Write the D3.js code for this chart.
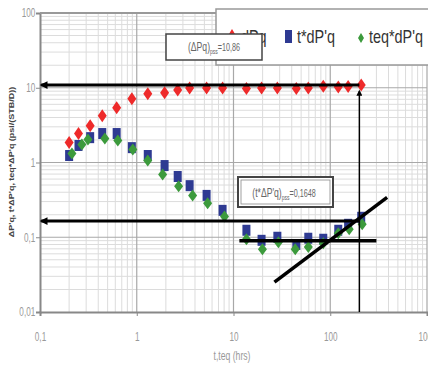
<!DOCTYPE html>
<html>
<head>
<meta charset="utf-8">
<script src="https://cdn.jsdelivr.net/npm/d3@7"></script>
<style>
  body { margin: 0; background: #fff; }
  svg { display: block; font-family: "Liberation Sans", Arial, sans-serif; }
</style>
</head>
<body>
<svg id="chart" width="428" height="367"></svg>
<script>
// time (hrs) for dPq and t*dP'q
const tHrs = [0.2, 0.25, 0.33, 0.44, 0.62, 0.89, 1.3, 1.94, 2.65, 3.52, 5.27, 7.71, 13.6, 19.5, 28.4, 44.6, 59.3, 84.7, 121, 153, 209];
const dPq = [1.85, 2.44, 3.11, 4.23, 5.41, 7.13, 8.32, 8.58, 9.3, 9.9, 9.9, 9.9, 9.8, 9.9, 9.9, 9.8, 9.9, 10.5, 10.2, 10.4, 10.9];
const tdPq = [1.24, 1.69, 2.15, 2.44, 2.44, 1.58, 1.24, 0.91, 0.65, 0.49, 0.363, 0.229, 0.124, 0.091, 0.10, 0.08, 0.097, 0.094, 0.124, 0.149, 0.185];
// equivalent time and teq*dP'q
const teq = [0.214, 0.271, 0.313, 0.468, 0.637, 0.91, 1.3, 1.85, 2.71, 3.78, 5.4, 8.07, 13.6, 19.9, 29.1, 43.5, 59.3, 84.7, 121, 157, 214];
const teqdPq = [1.32, 1.74, 2.03, 2.09, 1.97, 1.49, 1.06, 0.69, 0.48, 0.363, 0.284, 0.19, 0.094, 0.069, 0.086, 0.069, 0.074, 0.083, 0.113, 0.128, 0.149];

const xTicks = [0.1, 1, 10, 100, 1000];
const yTicks = [0.01, 0.1, 1, 10, 100];

// straight lines drawn on the plot: [x1, y1, x2, y2]
const dPqSS = 10.86, tdPqSS = 0.1648, tPss = 200;
const radialLine = [11.5, 0.09, 300, 0.09];
const slopeLine = [26.5, 0.0251, 387, 0.341];

const svg = d3.select('#chart');
const x = d3.scaleLog().domain([0.1, 1000]).range([40, 427]);
const y = d3.scaleLog().domain([0.01, 100]).range([312, 13]);

const fmt = d => String(d).replace('.', ',');

// minor + major grid
const minorX = [], minorY = [];
[0.1, 1, 10, 100].forEach(b => { for (let k = 2; k <= 9; k++) minorX.push(b * k); });
[0.01, 0.1, 1, 10].forEach(b => { for (let k = 2; k <= 9; k++) minorY.push(b * k); });

const grid = svg.append('g');
grid.selectAll('.mx').data(minorX).enter().append('line')
  .attr('x1', d => x(d)).attr('x2', d => x(d)).attr('y1', 13).attr('y2', 312)
  .attr('stroke', '#dcdcdc').attr('stroke-width', 1);
grid.selectAll('.my').data(minorY).enter().append('line')
  .attr('y1', d => y(d)).attr('y2', d => y(d)).attr('x1', 40).attr('x2', 427)
  .attr('stroke', '#dcdcdc').attr('stroke-width', 1);
grid.selectAll('.Mx').data(xTicks.slice(1)).enter().append('line')
  .attr('x1', d => x(d)).attr('x2', d => x(d)).attr('y1', 13).attr('y2', 312)
  .attr('stroke', '#a8a8a8').attr('stroke-width', 1.2);
grid.selectAll('.My').data(yTicks.slice(1)).enter().append('line')
  .attr('y1', d => y(d)).attr('y2', d => y(d)).attr('x1', 40).attr('x2', 427)
  .attr('stroke', '#a8a8a8').attr('stroke-width', 1.2);

// axes
const ax = svg.append('g').attr('transform', 'translate(0,312)')
  .call(d3.axisBottom(x).tickValues(xTicks).tickFormat(fmt).tickSize(4).tickPadding(16));
const ay = svg.append('g').attr('transform', 'translate(40,0)')
  .call(d3.axisLeft(y).tickValues(yTicks).tickFormat(fmt).tickSize(4).tickPadding(2));
[ax, ay].forEach(a => {
  a.select('.domain').attr('stroke', '#888').attr('stroke-width', 2);
  a.selectAll('.tick line').attr('stroke', '#888');
  a.selectAll('.tick text').attr('fill', '#999').attr('font-size', 12);
});
ax.selectAll('.tick text').attr('transform', 'scale(0.68,1)');
ay.selectAll('.tick text').attr('transform', 'scale(0.68,1)').attr('x', -7);

// top border of plot
svg.append('line').attr('x1', 40).attr('x2', 427).attr('y1', 13).attr('y2', 13)
  .attr('stroke', '#999').attr('stroke-width', 2);

// axis titles
svg.append('text').attr('transform', 'translate(232,360) scale(0.72,1)')
  .attr('text-anchor', 'middle').attr('font-size', 12).attr('fill', '#999')
  .text('t,teq (hrs)');
svg.append('text').attr('transform', 'translate(14,162) rotate(-90) scale(1,0.8)')
  .attr('text-anchor', 'middle').attr('font-size', 9).attr('font-weight', 'bold').attr('fill', '#444')
  .text("ΔP'q, t*ΔP'q, teq*ΔP'q (psi/(STB/D))");

// markers
const diamond = (w, h) => `M0,${-h}L${w},0L0,${h}L${-w},0Z`;

svg.append('g').selectAll('rect').data(tHrs).enter().append('rect')
  .attr('x', d => x(d) - 4).attr('y', (d, i) => y(tdPq[i]) - 5.5)
  .attr('width', 8).attr('height', 11).attr('fill', '#2e3a92');

svg.append('g').selectAll('path').data(teq).enter().append('path')
  .attr('transform', (d, i) => `translate(${x(d)},${y(teqdPq[i])})`)
  .attr('d', diamond(4.5, 6)).attr('fill', '#3c9a3c');

svg.append('g').selectAll('path').data(tHrs).enter().append('path')
  .attr('transform', (d, i) => `translate(${x(d)},${y(dPq[i])})`)
  .attr('d', diamond(4.5, 6.5)).attr('fill', '#ee2a2a');

// arrows and guide lines (arrow shape points along +x, reversed at line start)
const defs = svg.append('defs');
defs.append('marker').attr('id', 'arr').attr('viewBox', '0 0 10 10')
  .attr('refX', 8).attr('refY', 5).attr('markerWidth', 3).attr('markerHeight', 2.6)
  .attr('orient', 'auto-start-reverse')
  .append('path').attr('d', 'M10,5L0,0L0,10Z').attr('fill', '#000');
defs.append('marker').attr('id', 'arrSmall').attr('viewBox', '0 0 10 10')
  .attr('refX', 8).attr('refY', 5).attr('markerWidth', 5).attr('markerHeight', 4)
  .attr('orient', 'auto-start-reverse')
  .append('path').attr('d', 'M10,5L0,0L0,10Z').attr('fill', '#000');

const lines = svg.append('g');
lines.append('line').attr('x1', x(0.103)).attr('x2', x(tPss))
  .attr('y1', y(dPqSS)).attr('y2', y(dPqSS))
  .attr('stroke', '#000').attr('stroke-width', 3).attr('marker-start', 'url(#arr)');
lines.append('line').attr('x1', x(0.103)).attr('x2', x(tPss))
  .attr('y1', y(tdPqSS)).attr('y2', y(tdPqSS))
  .attr('stroke', '#000').attr('stroke-width', 3).attr('marker-start', 'url(#arr)');
lines.append('line').attr('x1', x(tPss)).attr('x2', x(tPss))
  .attr('y1', y(dPqSS) + 6).attr('y2', 312)
  .attr('stroke', '#000').attr('stroke-width', 1.5).attr('marker-start', 'url(#arrSmall)');
lines.append('line').attr('x1', x(radialLine[0])).attr('x2', x(radialLine[2]))
  .attr('y1', y(radialLine[1])).attr('y2', y(radialLine[3]))
  .attr('stroke', '#000').attr('stroke-width', 3.5);
lines.append('line').attr('x1', x(slopeLine[0])).attr('x2', x(slopeLine[2]))
  .attr('y1', y(slopeLine[1])).attr('y2', y(slopeLine[3]))
  .attr('stroke', '#000').attr('stroke-width', 3.5);

// legend
const lg = svg.append('g');
lg.append('rect').attr('x', 216).attr('y', 9).attr('width', 230).attr('height', 56)
  .attr('fill', '#fff').attr('stroke', '#999').attr('stroke-width', 1.5);
lg.append('path').attr('transform', 'translate(232,34)').attr('d', diamond(3, 5)).attr('fill', '#ee2a2a');
lg.append('rect').attr('x', 285).attr('y', 30).attr('width', 7).attr('height', 13).attr('fill', '#2e3a92');
lg.append('path').attr('transform', 'translate(361,38)').attr('d', diamond(3, 5)).attr('fill', '#3c9a3c');
[['dPq', 241], ["t*dP'q", 297], ["teq*dP'q", 369]].forEach(([s, px]) => {
  lg.append('text').attr('transform', `translate(${px},43) scale(0.8,1)`)
    .attr('font-size', 18).attr('fill', '#333').text(s);
});

// annotation boxes
const note = (bx, by, bw, bh, main, val, cx, cy, dbl) => {
  const g = svg.append('g');
  g.append('rect').attr('x', bx).attr('y', by).attr('width', bw).attr('height', bh)
    .attr('fill', '#fff').attr('stroke', '#444').attr('stroke-width', dbl ? 2 : 1.5);
  if (dbl) g.append('rect').attr('x', bx + 3).attr('y', by + 3).attr('width', bw - 6).attr('height', bh - 6)
    .attr('fill', 'none').attr('stroke', '#888').attr('stroke-width', 0.8);
  const t = g.append('text').attr('transform', `translate(${cx},${cy}) scale(0.72,1)`)
    .attr('text-anchor', 'middle').attr('fill', '#666').attr('font-size', 12);
  t.append('tspan').text(main);
  t.append('tspan').attr('font-size', 7).attr('dy', 3).text('pss');
  t.append('tspan').attr('font-size', 10).attr('dy', -3).text('=' + val);
};
note(166, 34, 96, 26, '(ΔPq)', String(dPqSS).replace('.', ','), 214, 51, false);
note(238, 177, 95, 30, "(t*ΔP'q)", String(tdPqSS).replace('.', ','), 284, 197, true);
</script>
</body>
</html>
